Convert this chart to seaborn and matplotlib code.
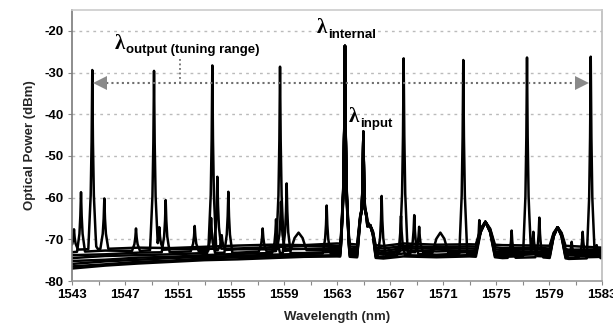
import numpy as np
import pandas as pd
import matplotlib
matplotlib.use("Agg")
import matplotlib.pyplot as plt
import seaborn as sns

# ---------------- data ----------------
anchor_wl = [1543, 1545.5, 1548, 1550.5, 1553, 1555.5, 1558, 1560.5, 1563,
             1566.5, 1568, 1570.5, 1573, 1575.5, 1578, 1580.5, 1583]
baselines = [
    [-72.5, -72.3, -72.0, -72.1, -71.8, -71.5, -71.3, -71.4, -71.0, -71.6, -71.0, -71.3, -71.2, -71.4, -71.5, -71.6, -72.0],
    [-73.1, -72.7, -72.8, -72.4, -72.3, -72.2, -71.9, -71.6, -71.6, -72.2, -71.6, -71.9, -71.7, -72.1, -72.0, -72.5, -72.4],
    [-73.8, -73.6, -73.2, -73.1, -72.8, -72.4, -72.4, -72.3, -72.1, -72.8, -72.1, -72.3, -72.2, -72.6, -72.4, -72.9, -72.8],
    [-74.5, -74.0, -73.8, -73.6, -73.3, -73.2, -72.9, -72.6, -72.6, -73.3, -72.6, -72.9, -72.7, -73.1, -72.9, -73.3, -73.2],
    [-75.2, -74.9, -74.4, -74.2, -73.8, -73.5, -73.3, -73.3, -73.0, -73.7, -73.0, -73.3, -73.1, -73.5, -73.3, -73.8, -73.6],
    [-75.9, -75.3, -74.9, -74.5, -74.2, -74.0, -73.7, -73.5, -73.4, -74.0, -73.4, -73.7, -73.4, -73.9, -73.6, -74.1, -73.9],
    [-76.5, -76.0, -75.4, -75.1, -74.6, -74.3, -74.1, -74.0, -73.8, -74.3, -73.8, -74.0, -73.8, -74.2, -74.0, -74.4, -74.2],
    [-77.0, -76.3, -75.8, -75.4, -75.0, -74.8, -74.5, -74.2, -74.1, -74.6, -74.1, -74.3, -74.1, -74.5, -74.3, -74.7, -74.5],
]
output_wl = [1544.53, 1549.19, 1553.59, 1558.70, 1568.03, 1572.53, 1577.34, 1582.15]
output_dbm = [-29.4, -29.6, -28.3, -28.6, -26.6, -27.0, -26.4, -26.2]
internal_wl, internal_dbm = 1563.6, -23.6
input_wl, input_dbm = 1564.99, -44.2

small_wl = [1543.15, 1543.68, 1544.66, 1545.44, 1547.83, 1549.59, 1550.07, 1552.26,
            1553.50, 1553.97, 1554.30, 1554.80, 1557.39, 1558.40, 1558.77, 1559.20,
            1562.22, 1566.37, 1567.83, 1568.83, 1569.20, 1573.74, 1576.18, 1577.82,
            1578.27, 1580.71, 1581.54, 1582.60]
small_dbm = [-67.6, -58.7, -69.4, -60.2, -67.4, -67.1, -60.6, -66.8,
             -64.9, -55.0, -69.0, -58.6, -67.4, -65.2, -61.0, -56.6,
             -61.9, -59.6, -64.4, -64.2, -67.0, -65.4, -67.9, -68.2,
             -64.8, -70.6, -68.2, -71.4]
small_trace = [0, 1, 0, 0, 1, 1, 2, 2,
               3, 1, 2, 3, 3, 4, 2, 4,
               5, 5, 6, 5, 4, 6, 7, 6,
               7, 5, 6, 7]

bump_wl = [1560.1, 1563.6, 1565.0, 1565.5, 1570.8, 1574.2, 1579.65]
bump_dbm = [-68.4, -63.0, -61.0, -66.6, -68.4, -65.8, -67.1]
bump_hw = [0.5, 0.3, 0.4, 0.35, 0.5, 0.6, 0.5]
bump_trace = [3, -1, -1, -1, 4, -1, -1]

xticks = list(range(1543, 1584, 4))
yticks = list(range(-80, -19, 10))

# ---------------- build traces ----------------
SPIKE_DX = np.array([-0.3, -0.12, -0.05, 0.0, 0.05, 0.12, 0.3])
SPIKE_FR = np.array([0.0, 0.3, 0.6, 1.0, 0.6, 0.3, 0.0])
BUMP_DX = np.array([-1.2, -0.6, 0.0, 0.6, 1.2])
BUMP_FR = np.array([0.0, 0.7, 1.0, 0.7, 0.0])

rows = []
for t, base in enumerate(baselines):
    spikes = [(output_wl[t], output_dbm[t]), (internal_wl, internal_dbm), (input_wl, input_dbm)]
    spikes += [(w, p) for w, p, tr in zip(small_wl, small_dbm, small_trace) if tr == t]
    bumps = [(w, p, h) for w, p, h, tr in zip(bump_wl, bump_dbm, bump_hw, bump_trace)
             if tr in (-1, t)]
    xs = list(anchor_wl)
    for c, _ in spikes:
        xs += list(c + SPIKE_DX)
    for c, _, h in bumps:
        xs += list(c + BUMP_DX * h)
    xs = np.unique(np.clip(xs, 1543, 1583))
    ys = np.interp(xs, anchor_wl, base)
    for c, p in spikes:
        b = np.interp(c, anchor_wl, base)
        prof = np.interp(xs, c + SPIKE_DX, b + SPIKE_FR * (p - b), left=-200, right=-200)
        ys = np.maximum(ys, prof)
    for c, p, h in bumps:
        b = np.interp(c, anchor_wl, base)
        prof = np.interp(xs, c + BUMP_DX * h, b + BUMP_FR * (p - b), left=-200, right=-200)
        ys = np.maximum(ys, prof)
    for x, y in zip(xs, ys):
        rows.append({"wl": x, "dbm": y, "trace": t})
df = pd.DataFrame(rows)

# ---------------- plot ----------------
sns.set_theme(style="white")
plt.rcParams["font.family"] = ["Liberation Sans", "DejaVu Sans"]

fig = plt.figure(figsize=(6.13, 3.36), dpi=100)
ax = fig.add_axes([72 / 613, 1 - 281 / 336, 530 / 613, 271 / 336])

sns.lineplot(data=df, x="wl", y="dbm", units="trace", estimator=None, sort=False,
             color="black", linewidth=1.8, ax=ax, legend=False)

ax.set_xlim(1543, 1583)
ax.set_ylim(-80, -15)
ax.set_xticks(xticks)
ax.set_xticks(list(range(1545, 1584, 4)), minor=True)
ax.set_yticks(yticks)
ax.set_xticklabels([str(v) for v in xticks], fontweight="bold", fontsize=9.5)
ax.set_yticklabels([str(v) for v in yticks], fontweight="bold", fontsize=9.5)
ax.tick_params(axis="both", which="both", direction="out", length=3, width=0.8,
               colors="#888888", labelcolor="black", pad=3)
ax.tick_params(axis="x", which="both", bottom=True)
ax.tick_params(axis="y", left=True)
for yv in yticks[1:]:
    ax.axhline(yv, color="#bbbbbb", linestyle=(0, (2, 3)), linewidth=1.0, zorder=0)

for side, col in [("left", "#7a7a7a"), ("bottom", "#9a9a9a"),
                  ("top", "#cccccc"), ("right", "#bbbbbb")]:
    ax.spines[side].set_color(col)
    ax.spines[side].set_linewidth(1.2)

ax.set_xlabel("Wavelength (nm)", fontweight="bold", fontsize=9.5, labelpad=7)
ax.set_ylabel("Optical Power (dBm)", fontweight="bold", fontsize=9.5, labelpad=6)

# tuning range arrow
ax.plot([1545.2, 1581.4], [-32.6, -32.6], color="#6f6f6f", linestyle=(0, (1, 1.5)),
        linewidth=1.5, zorder=3)
ax.plot([1545.1], [-32.6], marker="<", markersize=9.5, color="#8a8a8a", zorder=4,
        markeredgewidth=0)
ax.plot([1581.5], [-32.6], marker=">", markersize=9.5, color="#8a8a8a", zorder=4,
        markeredgewidth=0)
ax.plot([1551.15, 1551.15], [-26.8, -32.6], color="#6f6f6f", linestyle=(0, (1, 1.5)),
        linewidth=1.3, zorder=3)

lam_kw = dict(family=["Liberation Serif", "DejaVu Serif"], fontsize=15, fontweight="bold",
              va="baseline", ha="left", color="black")
sub_kw = dict(fontweight="bold", fontsize=9.5, va="baseline", ha="left", color="black")
ax.text(1546.2, -24.3, "λ", **lam_kw)
ax.text(1547.05, -25.3, "output (tuning range)", **sub_kw)
ax.text(1561.5, -20.6, "λ", **lam_kw)
ax.text(1562.35, -21.8, "internal", **sub_kw)
ax.text(1563.9, -41.9, "λ", **lam_kw)
ax.text(1564.75, -43.0, "input", **sub_kw)

fig.text(0.54, 1.03, "Output spectrum (dBm)", ha="center", va="center",
         fontweight="bold", fontsize=9)

fig.savefig("out.png", dpi=100)
